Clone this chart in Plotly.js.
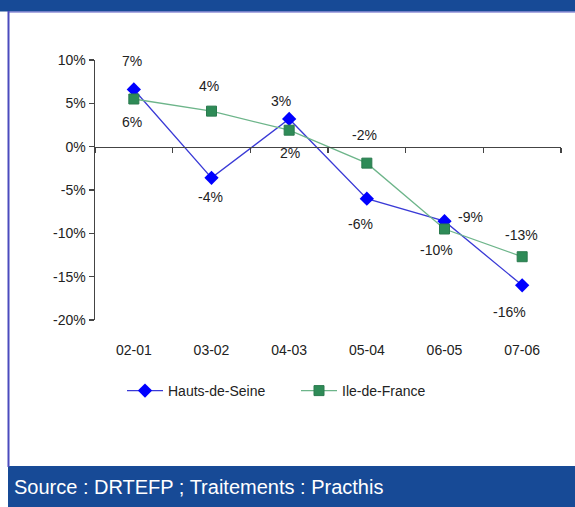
<!DOCTYPE html>
<html>
<head>
<meta charset="utf-8">
<script src="https://cdn.plot.ly/plotly-3.0.1.min.js"></script>
<style>
  html, body { margin: 0; padding: 0; background: #ffffff; }
  #chart { width: 575px; height: 507px; }
</style>
</head>
<body>
<div id="chart"></div>
<script>
// ---- data ----
const categories = ['02-01', '03-02', '04-03', '05-04', '06-05', '07-06'];
const hautsDeSeine = [6.6, -3.6, 3.2, -6.0, -8.6, -16.0];
const ileDeFrance = [5.5, 4.1, 1.9, -1.9, -9.5, -12.7];
const hautsDeSeineLabels = ['7%', '-4%', '3%', '-6%', '-9%', '-16%'];
const ileDeFranceLabels = ['6%', '4%', '2%', '-2%', '-10%', '-13%'];
const yTickValues = [-20, -15, -10, -5, 0, 5, 10];
const sourceText = 'Source : DRTEFP ; Traitements : Practhis';

// ---- label placement (pixel shifts: [dx, dy], dy positive = downward) ----
const hdsShift = [[-2, -28], [-1, 19], [-8, -18], [-6, 25], [26, -4], [-13, 27]];
const idfShift = [[-2, 23], [-3, -25], [1, 23], [-2, -28], [-8, 21], [-1, -22]];

const font = 'Arial, "Liberation Sans", sans-serif';
const textColor = '#222222';

const traces = [
  {
    type: 'scatter', mode: 'lines+markers', name: 'Hauts-de-Seine',
    x: categories, y: hautsDeSeine,
    line: { color: '#3a3ad6', width: 1.3 },
    marker: { symbol: 'diamond', size: 11, color: '#0000ff', line: { width: 0 } },
    xaxis: 'x', yaxis: 'y'
  },
  {
    type: 'scatter', mode: 'lines+markers', name: 'Ile-de-France',
    x: categories, y: ileDeFrance,
    line: { color: '#6db58a', width: 1.3 },
    marker: { symbol: 'square', size: 10, color: '#2e8b57', line: { width: 1, color: '#2a7a4e' } },
    xaxis: 'x', yaxis: 'y'
  },
  {
    // carrier for the zero-line axis
    type: 'scatter', mode: 'markers', x: categories, y: categories.map(() => 0),
    marker: { opacity: 0 }, showlegend: false, hoverinfo: 'skip',
    xaxis: 'x2', yaxis: 'y'
  }
];

const annotations = [];
function addLabels(labels, values, shifts) {
  labels.forEach((t, i) => {
    annotations.push({
      x: categories[i], y: values[i], xref: 'x', yref: 'y',
      text: t, showarrow: false,
      xshift: shifts[i][0], yshift: -shifts[i][1],
      font: { family: font, size: 14, color: textColor }
    });
  });
}
addLabels(hautsDeSeineLabels, hautsDeSeine, hdsShift);
addLabels(ileDeFranceLabels, ileDeFrance, idfShift);

// margins (pixels): plot area x 95..561, y 60..320
const L = 95, R = 561, T = 60, B = 320;
const W = R - L, H = B - T;
const px = v => (v - L) / W;
const py = v => (B - v) / H;

annotations.push({
  xref: 'paper', yref: 'paper', x: px(12), y: py(487),
  xanchor: 'left', yanchor: 'middle', showarrow: false,
  text: sourceText,
  font: { family: font, size: 20, color: '#ffffff' }
});

const shapes = [
  // top band
  { type: 'rect', xref: 'paper', yref: 'paper', x0: px(0), x1: px(575), y0: py(0), y1: py(11.5),
    fillcolor: '#174a96', line: { width: 0 }, layer: 'below' },
  { type: 'line', xref: 'paper', yref: 'paper', x0: px(8), x1: px(575), y0: py(12), y1: py(12),
    line: { color: '#5a5ac4', width: 1 } },
  // left border
  { type: 'line', xref: 'paper', yref: 'paper', x0: px(8.5), x1: px(8.5), y0: py(11), y1: py(467),
    line: { color: '#4b4bbd', width: 2 } },
  // bottom band
  { type: 'rect', xref: 'paper', yref: 'paper', x0: px(8), x1: px(575), y0: py(466), y1: py(507),
    fillcolor: '#174a96', line: { width: 0 }, layer: 'below' }
];

const layout = {
  width: 575, height: 507,
  margin: { l: L, r: 575 - R, t: T, b: 507 - B, pad: 0 },
  paper_bgcolor: '#ffffff', plot_bgcolor: 'rgba(0,0,0,0)',
  showlegend: true,
  legend: {
    orientation: 'h', x: px(122), xanchor: 'left', y: py(391), yanchor: 'middle',
    font: { family: font, size: 14, color: textColor },
    bgcolor: 'rgba(0,0,0,0)', itemwidth: 36, tracegroupgap: 0,
    entrywidth: 123
  },
  xaxis: {
    type: 'category', categoryorder: 'array', categoryarray: categories,
    range: [-0.5, 5.5], showline: false, showgrid: false, zeroline: false,
    ticks: 'outside', ticklen: 17, tickcolor: 'rgba(0,0,0,0)',
    tickfont: { family: font, size: 14, color: textColor },
    anchor: 'y'
  },
  xaxis2: {
    type: 'category', categoryorder: 'array', categoryarray: categories,
    range: [-0.5, 5.5], overlaying: 'x', anchor: 'free', position: py(146.7),
    showline: true, linecolor: '#444444', linewidth: 1.5,
    ticks: 'outside', tickson: 'boundaries', ticklen: 5, tickcolor: '#444444', tickwidth: 1.3,
    showticklabels: false, showgrid: false, zeroline: false
  },
  yaxis: {
    range: [-20, 10], tickvals: yTickValues, ticktext: yTickValues.map(v => v + '%'),
    showline: true, linecolor: '#444444', linewidth: 1.5,
    ticks: 'outside', ticklen: 5, tickcolor: '#444444', tickwidth: 1.3,
    showgrid: false, zeroline: false,
    tickfont: { family: font, size: 14, color: textColor }
  },
  annotations: annotations,
  shapes: shapes
};

Plotly.newPlot('chart', traces, layout, { staticPlot: true, displayModeBar: false });
</script>
</body>
</html>
